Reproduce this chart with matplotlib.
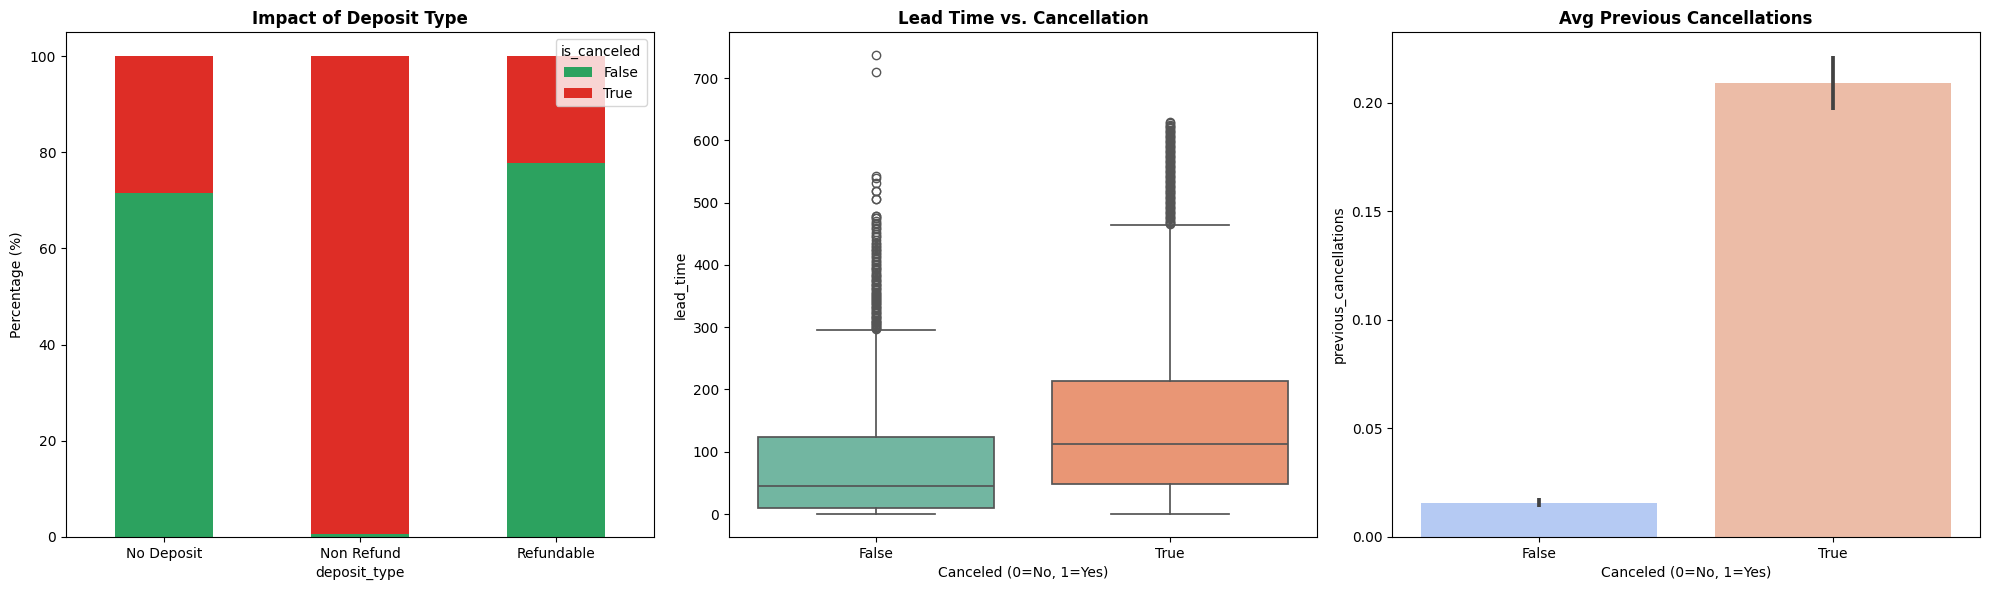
import matplotlib
matplotlib.use("Agg")
import matplotlib.pyplot as plt
import numpy as np
import colorsys

# ---------------- data ----------------
deposit_types = ["No Deposit", "Non Refund", "Refundable"]
pct_not_canceled = [71.6, 0.6, 77.8]
pct_canceled = [28.4, 99.4, 22.2]

box_labels = ["False", "True"]
box_whislo = [0, 0]
box_q1 = [9, 48]
box_med = [45, 113]
box_q3 = [124, 214]
box_whishi = [296, 464]
fliers_false = [297, 298, 300, 301, 303, 304, 305, 307, 308, 309, 310, 312, 314, 315, 317,
                318, 320, 322, 323, 325, 327, 328, 330, 332, 333, 335, 337, 338, 340, 342,
                344, 345, 347, 348, 350, 352, 354, 355, 357, 359, 361, 363, 365, 367, 368,
                370, 372, 374, 376, 378, 380, 382, 384, 386, 389, 391, 393, 395, 397, 400,
                402, 405, 407, 409, 412, 414, 417, 419, 422, 424, 426, 429, 431, 433, 435,
                440, 444, 447, 450, 453, 457, 460, 463, 465, 468, 471, 475, 476, 478, 479,
                505, 506, 518, 519, 532, 540, 542, 709, 737]
fliers_true = [465, 467, 469, 471, 473, 475, 477, 479, 481, 483, 485, 487, 489, 491, 493,
               495, 497, 499, 501, 503, 505, 507, 509, 511, 513, 515, 517, 519, 521, 523,
               525, 527, 529, 531, 533, 535, 537, 539, 541, 543, 545, 547, 549, 551, 553,
               555, 557, 559, 561, 563, 565, 567, 569, 571, 573, 575, 577, 579, 581, 583,
               585, 587, 589, 591, 593, 595, 597, 599, 601, 603, 605, 607, 609, 611, 613,
               615, 617, 619, 621, 623, 625, 627, 629]

bar_labels = ["False", "True"]
prev_cancel_mean = [0.0158, 0.2090]
prev_cancel_ci_lo = [0.0138, 0.1968]
prev_cancel_ci_hi = [0.0180, 0.2215]


def desat(c, prop=0.75):
    r, g, b = matplotlib.colors.to_rgb(c)
    h, l, s = colorsys.rgb_to_hls(r, g, b)
    return colorsys.hls_to_rgb(h, l, s * prop)


W, H = 1990, 590
fig, axes = plt.subplots(1, 3, figsize=(W / 100, H / 100), dpi=100)
fig.subplots_adjust(left=66 / W, right=1980 / W, top=1 - 32 / H, bottom=1 - 537 / H,
                    wspace=75 / 588)

# ---------------- panel 1 ----------------
ax = axes[0]
x = np.arange(len(deposit_types))
ax.bar(x, pct_not_canceled, width=0.5, color="#2ca25f", label="False")
ax.bar(x, pct_canceled, width=0.5, bottom=pct_not_canceled, color="#de2d26", label="True")
ax.set_xticks(x)
ax.set_xticklabels(deposit_types, rotation=0)
ax.set_xlim(-0.5, len(deposit_types) - 0.5)
ax.set_xlabel("deposit_type")
ax.set_ylabel("Percentage (%)")
ax.set_title("Impact of Deposit Type", fontweight="bold", fontsize=12)
ax.legend(title="is_canceled", loc="upper right")

# ---------------- panel 2 ----------------
ax = axes[1]
set2 = ["#66c2a5", "#fc8d62"]
line_c = "#555555"
stats = []
for i, lab in enumerate(box_labels):
    stats.append(dict(label=lab, whislo=box_whislo[i], q1=box_q1[i], med=box_med[i],
                      q3=box_q3[i], whishi=box_whishi[i],
                      fliers=[fliers_false, fliers_true][i]))
bp = ax.bxp(stats, positions=[0, 1], widths=0.8, patch_artist=True, showfliers=True,
            boxprops=dict(edgecolor=line_c, linewidth=1.25),
            whiskerprops=dict(color=line_c, linewidth=1.25),
            capprops=dict(color=line_c, linewidth=1.25),
            medianprops=dict(color=line_c, linewidth=1.25),
            flierprops=dict(marker="o", markerfacecolor="none", markeredgecolor=line_c,
                            markersize=6, linewidth=0),
            capwidths=0.4)
for patch, c in zip(bp["boxes"], set2):
    patch.set_facecolor(desat(c))
ax.set_xlim(-0.5, 1.5)
ax.set_xticks([0, 1])
ax.set_xticklabels(box_labels)
ax.set_xlabel("Canceled (0=No, 1=Yes)")
ax.set_ylabel("lead_time")
ax.set_title("Lead Time vs. Cancellation", fontweight="bold", fontsize=12)

# ---------------- panel 3 ----------------
ax = axes[2]
cw = matplotlib.colormaps["coolwarm"]
bar_cols = [desat(cw(1 / 3)), desat(cw(2 / 3))]
xb = np.arange(len(bar_labels))
ax.bar(xb, prev_cancel_mean, width=0.8, color=bar_cols)
for i in range(len(bar_labels)):
    ax.plot([xb[i], xb[i]], [prev_cancel_ci_lo[i], prev_cancel_ci_hi[i]],
            color="#424242", linewidth=2.7, solid_capstyle="butt")
ax.set_xlim(-0.5, 1.5)
ax.set_xticks(xb)
ax.set_xticklabels(bar_labels)
ax.set_xlabel("Canceled (0=No, 1=Yes)")
ax.set_ylabel("previous_cancellations")
ax.set_title("Avg Previous Cancellations", fontweight="bold", fontsize=12)

fig.savefig("out.png", dpi=100)
